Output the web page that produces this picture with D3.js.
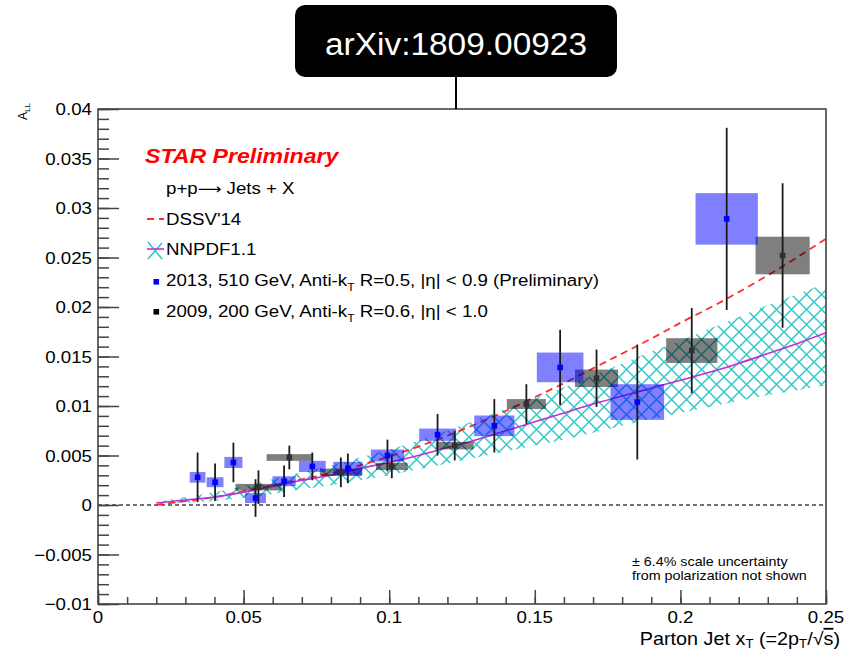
<!DOCTYPE html>
<html>
<head>
<meta charset="utf-8">
<script src="https://cdn.jsdelivr.net/npm/d3@7"></script>
<style>
  html, body { margin: 0; padding: 0; background: #fff; }
  svg { display: block; }
  text { font-family: "Liberation Sans", Arial, Helvetica, sans-serif; }
</style>
</head>
<body>
<svg id="chart" width="856" height="651"></svg>
<script>
// ---- Data -------------------------------------------------------------
// 2013, 510 GeV jets (preliminary)
const run13X    = [0.0342, 0.0402, 0.0465, 0.0541, 0.0639, 0.0736, 0.0858, 0.0994, 0.1166, 0.1361, 0.1587, 0.1852, 0.2159];
const run13ALL  = [0.0028, 0.0023, 0.0043, 0.0007, 0.0024, 0.0039, 0.0037, 0.0050, 0.0071, 0.0080, 0.0139, 0.0104, 0.0289];
const run13Stat = [0.0025, 0.0019, 0.0020, 0.0019, 0.0016, 0.0014, 0.0015, 0.0016, 0.0021, 0.0027, 0.0038, 0.0058, 0.0092];
const run13SysY = [0.00054, 0.0005, 0.00056, 0.0005, 0.0005, 0.00056, 0.00066, 0.0006, 0.00062, 0.00104, 0.0015, 0.0018, 0.0026];
const run13SysX = [0.0027, 0.0029, 0.0031, 0.0036, 0.0040, 0.0046, 0.0050, 0.0057, 0.0063, 0.0069, 0.0080, 0.0092, 0.0107];

// 2009, 200 GeV jets
const run09X    = [0.0551, 0.0657, 0.0834, 0.1009, 0.1225, 0.1471, 0.1712, 0.2039, 0.2351];
const run09ALL  = [0.0018, 0.0048, 0.0033, 0.0039, 0.0060, 0.0102, 0.0128, 0.0156, 0.0252];
const run09Stat = [0.0017, 0.0012, 0.0015, 0.0012, 0.0015, 0.0020, 0.0029, 0.0043, 0.0073];
const run09SysY = [0.00033, 0.00034, 0.00037, 0.00037, 0.00038, 0.0005, 0.00088, 0.00125, 0.0019];
const run09SysX = [0.0079, 0.0078, 0.0072, 0.0054, 0.0065, 0.0067, 0.0074, 0.0088, 0.0093];

// Theory curves on a common x grid
const theoryX   = [0.02, 0.03, 0.04, 0.05, 0.06, 0.07, 0.08, 0.09, 0.10, 0.11, 0.12, 0.13,
                   0.14, 0.15, 0.16, 0.17, 0.18, 0.19, 0.20, 0.21, 0.22, 0.23, 0.24, 0.25];
const dssv14    = [0.0000, 0.0004, 0.0008, 0.0014, 0.0020, 0.0026, 0.0032, 0.0040, 0.0049, 0.0059, 0.0070, 0.0082,
                   0.0095, 0.0109, 0.0123, 0.0138, 0.0153, 0.0168, 0.0184, 0.0199, 0.0215, 0.0232, 0.0250, 0.0269];
const nnpdf     = [0.0002, 0.0005, 0.0008, 0.0013, 0.0019, 0.0025, 0.0030, 0.0037, 0.0043, 0.0050, 0.0058, 0.0066,
                   0.0075, 0.0084, 0.0093, 0.0102, 0.0110, 0.0118, 0.0126, 0.0134, 0.0143, 0.0153, 0.0163, 0.0174];
const nnpdfHi   = [0.0003, 0.0008, 0.0013, 0.0019, 0.0026, 0.0033, 0.0040, 0.0048, 0.0056, 0.0065, 0.0075, 0.0086,
                   0.0097, 0.0108, 0.0119, 0.0131, 0.0143, 0.0155, 0.0166, 0.0178, 0.0190, 0.0202, 0.0213, 0.0224];
const nnpdfLo   = [0.0001, 0.0002, 0.0004, 0.0007, 0.0011, 0.0016, 0.0020, 0.0025, 0.0030, 0.0036, 0.0042, 0.0048,
                   0.0054, 0.0060, 0.0066, 0.0073, 0.0080, 0.0087, 0.0093, 0.0099, 0.0105, 0.0111, 0.0116, 0.0121];

// Axis ticks
const xMajor = [0, 0.05, 0.1, 0.15, 0.2, 0.25];
const xMajorLabels = ["0", "0.05", "0.1", "0.15", "0.2", "0.25"];
const xMinor = d3.range(0, 0.2501, 0.01);
const yMajor = [-0.01, -0.005, 0, 0.005, 0.01, 0.015, 0.02, 0.025, 0.03, 0.035, 0.04];
const yMajorLabels = ["\u22120.01", "\u22120.005", "0", "0.005", "0.01", "0.015", "0.02", "0.025", "0.03", "0.035", "0.04"];
const yMinor = d3.range(-0.01, 0.04001, 0.001);

// ---- Layout -----------------------------------------------------------
const svg = d3.select("#chart");
const SX = 1.1;   // horizontal stretch of the chart's lettering
const x = d3.scaleLinear().domain([0, 0.25]).range([98, 826]);
const y = d3.scaleLinear().domain([-0.01, 0.04]).range([604, 109]);

svg.append("rect").attr("width", 856).attr("height", 651).attr("fill", "#fff");

function stext(parent, px, py, size, anchor) {
  const g = parent.append("g").attr("transform", `translate(${px},${py}) scale(${SX},1)`);
  return g.append("text").attr("x", 0).attr("y", 0)
    .attr("font-size", size).attr("text-anchor", anchor || "start").attr("fill", "#000");
}

// Cross-hatch used for the NNPDF uncertainty band
const defs = svg.append("defs");
const pat = defs.append("pattern").attr("id", "xhatch")
  .attr("patternUnits", "userSpaceOnUse").attr("width", 15).attr("height", 15)
  .attr("x", 4).attr("y", 2);
pat.append("path")
  .attr("d", "M-2,2 L2,-2 M0,15 L15,0 M13,17 L17,13 M-2,13 L2,17 M0,0 L15,15 M13,-2 L17,2")
  .attr("stroke", "#33c7c7").attr("stroke-width", 1.5).attr("fill", "none");

const clip = defs.append("clipPath").attr("id", "frameclip");
clip.append("rect").attr("x", 98).attr("y", 109).attr("width", 728).attr("height", 495);

const plot = svg.append("g").attr("clip-path", "url(#frameclip)");

// zero line
plot.append("line")
  .attr("x1", x(0)).attr("x2", x(0.25)).attr("y1", y(0)).attr("y2", y(0))
  .attr("stroke", "#444").attr("stroke-width", 1.6).attr("stroke-dasharray", "4,3");

// NNPDF band
const bandArea = d3.area()
  .x((d, i) => x(theoryX[i]))
  .y0((d, i) => y(nnpdfLo[i]))
  .y1((d, i) => y(nnpdfHi[i]))
  .curve(d3.curveMonotoneX);
plot.append("path").datum(theoryX).attr("d", bandArea).attr("fill", "url(#xhatch)");

// DSSV'14 curve
const dssvLine = d3.line().x((d, i) => x(theoryX[i])).y((d, i) => y(dssv14[i])).curve(d3.curveMonotoneX);
plot.append("path").datum(theoryX).attr("d", dssvLine)
  .attr("fill", "none").attr("stroke", "#ff2b2b").attr("stroke-width", 1.8).attr("stroke-dasharray", "7,5");

// NNPDF central curve
const nnLine = d3.line().x((d, i) => x(theoryX[i])).y((d, i) => y(nnpdf[i])).curve(d3.curveMonotoneX);
plot.append("path").datum(theoryX).attr("d", nnLine)
  .attr("fill", "none").attr("stroke", "#c42ed6").attr("stroke-width", 1.6);

// Systematic boxes
function sysBoxes(xs, ys, sx, sy, fill, op) {
  plot.append("g").selectAll("rect").data(xs).join("rect")
    .attr("x", (d, i) => x(d - sx[i]))
    .attr("width", (d, i) => x(d + sx[i]) - x(d - sx[i]))
    .attr("y", (d, i) => y(ys[i] + sy[i]))
    .attr("height", (d, i) => y(ys[i] - sy[i]) - y(ys[i] + sy[i]))
    .attr("fill", fill).attr("fill-opacity", op);
}
sysBoxes(run09X, run09ALL, run09SysX, run09SysY, "#000", 0.5);
sysBoxes(run13X, run13ALL, run13SysX, run13SysY, "#0000ff", 0.5);

// Statistical error bars and markers
function statBars(xs, ys, st) {
  plot.append("g").selectAll("line").data(xs).join("line")
    .attr("x1", d => x(d)).attr("x2", d => x(d))
    .attr("y1", (d, i) => y(ys[i] + st[i])).attr("y2", (d, i) => y(ys[i] - st[i]))
    .attr("stroke", "#1a1a1a").attr("stroke-width", 1.8);
}
function markers(xs, ys, color) {
  plot.append("g").selectAll("rect").data(xs).join("rect")
    .attr("x", d => x(d) - 2.8).attr("y", (d, i) => y(ys[i]) - 2.8)
    .attr("width", 5.6).attr("height", 5.6).attr("fill", color);
}
statBars(run09X, run09ALL, run09Stat);
statBars(run13X, run13ALL, run13Stat);
markers(run09X, run09ALL, "#303030");
markers(run13X, run13ALL, "#0000ff");

// ---- Axes -------------------------------------------------------------
const axisCol = "#444";
function styleAxis(g) {
  g.select(".domain").remove();
  g.selectAll(".tick line").attr("stroke", axisCol).attr("stroke-width", 1.5);
  g.selectAll(".tick text").remove();
}
svg.append("g").attr("transform", `translate(0,${y(-0.01)})`)
  .call(d3.axisBottom(x).tickValues(xMinor).tickSize(-7).tickFormat("")).call(styleAxis);
svg.append("g").attr("transform", `translate(0,${y(-0.01)})`)
  .call(d3.axisBottom(x).tickValues(xMajor).tickSize(-14).tickFormat("")).call(styleAxis);
svg.append("g").attr("transform", `translate(${x(0)},0)`)
  .call(d3.axisLeft(y).tickValues(yMinor).tickSize(-11).tickFormat("")).call(styleAxis);
svg.append("g").attr("transform", `translate(${x(0)},0)`)
  .call(d3.axisLeft(y).tickValues(yMajor).tickSize(-21).tickFormat("")).call(styleAxis);

// frame
svg.append("rect").attr("x", 98).attr("y", 109).attr("width", 728).attr("height", 495)
  .attr("fill", "none").attr("stroke", axisCol).attr("stroke-width", 1.6);

// tick labels
xMajor.forEach((v, i) => stext(svg, x(v), 623, 17, "middle").text(xMajorLabels[i]));
yMajor.forEach((v, i) => stext(svg, 92, y(v) + 6, 17, "end").text(yMajorLabels[i]));

// axis titles
const xt = stext(svg, 840, 645, 18, "end");
xt.append("tspan").text("Parton Jet x");
xt.append("tspan").attr("font-size", 12).attr("dy", 3).text("T");
xt.append("tspan").attr("dy", -3).text(" (=2p");
xt.append("tspan").attr("font-size", 12).attr("dy", 3).text("T");
xt.append("tspan").attr("dy", -3).text("/\u221A");
xt.append("tspan").style("text-decoration", "overline").text("s");
xt.append("tspan").text(")");

const ytg = svg.append("g").attr("transform", "translate(27,103) rotate(-90)");
const yt = ytg.append("text").attr("text-anchor", "end").attr("font-size", 12).attr("fill", "#000");
yt.append("tspan").text("A");
yt.append("tspan").attr("font-size", 8).attr("dy", 3).text("LL");

// ---- Legend -----------------------------------------------------------
stext(svg, 145, 163, 21, "start")
  .attr("font-weight", "bold").attr("font-style", "italic").attr("fill", "#ff0000")
  .text("STAR Preliminary");

const legX = 166;
const pp = stext(svg, legX, 194, 17);
pp.append("tspan").text("p+p");
pp.append("tspan").attr("font-family", "'DejaVu Sans', sans-serif").attr("font-size", 15).text("\u27F6");
pp.append("tspan").text(" Jets + X");

svg.append("line").attr("x1", 147).attr("x2", 164).attr("y1", 219).attr("y2", 219)
  .attr("stroke", "#ff2b2b").attr("stroke-width", 1.8).attr("stroke-dasharray", "7,5");
stext(svg, legX, 225, 17).text("DSSV'14");

svg.append("path").attr("d", "M148,242 L162,259 M148,259 L156,250 M156,250 L162,243")
  .attr("stroke", "#33c7c7").attr("stroke-width", 1.6).attr("fill", "none");
svg.append("line").attr("x1", 147).attr("x2", 164).attr("y1", 249).attr("y2", 249)
  .attr("stroke", "#c42ed6").attr("stroke-width", 1.6);
stext(svg, legX, 255, 17).text("NNPDF1.1");

svg.append("rect").attr("x", 153.5).attr("y", 279).attr("width", 5.6).attr("height", 5.6).attr("fill", "#0000ff");
const l13 = stext(svg, legX, 286, 17);
l13.append("tspan").text("2013, 510 GeV, Anti-k");
l13.append("tspan").attr("font-size", 11).attr("dy", 5).text("T");
l13.append("tspan").attr("dy", -5).text(" R=0.5, |\u03B7| < 0.9 (Preliminary)");

svg.append("rect").attr("x", 153.5).attr("y", 309).attr("width", 5.6).attr("height", 5.6).attr("fill", "#000");
const l09 = stext(svg, legX, 317, 17);
l09.append("tspan").text("2009, 200 GeV, Anti-k");
l09.append("tspan").attr("font-size", 11).attr("dy", 5).text("T");
l09.append("tspan").attr("dy", -5).text(" R=0.6, |\u03B7| < 1.0");

// polarization note
stext(svg, 632, 566, 13).text("\u00B1 6.4% scale uncertainty");
stext(svg, 632, 580, 13).text("from polarization not shown");

// ---- Reference tag ----------------------------------------------------
svg.append("line").attr("x1", 456).attr("x2", 456).attr("y1", 76).attr("y2", 109)
  .attr("stroke", "#000").attr("stroke-width", 2);
svg.append("rect").attr("x", 295).attr("y", 5).attr("width", 322).attr("height", 72)
  .attr("rx", 10).attr("fill", "#000");
svg.append("text").attr("x", 456).attr("y", 55).attr("text-anchor", "middle")
  .attr("font-family", "'Open Sans', Lato, sans-serif").attr("font-size", 31)
  .attr("fill", "#fff").attr("textLength", 262).attr("lengthAdjust", "spacingAndGlyphs")
  .text("arXiv:1809.00923");
</script>
</body>
</html>
